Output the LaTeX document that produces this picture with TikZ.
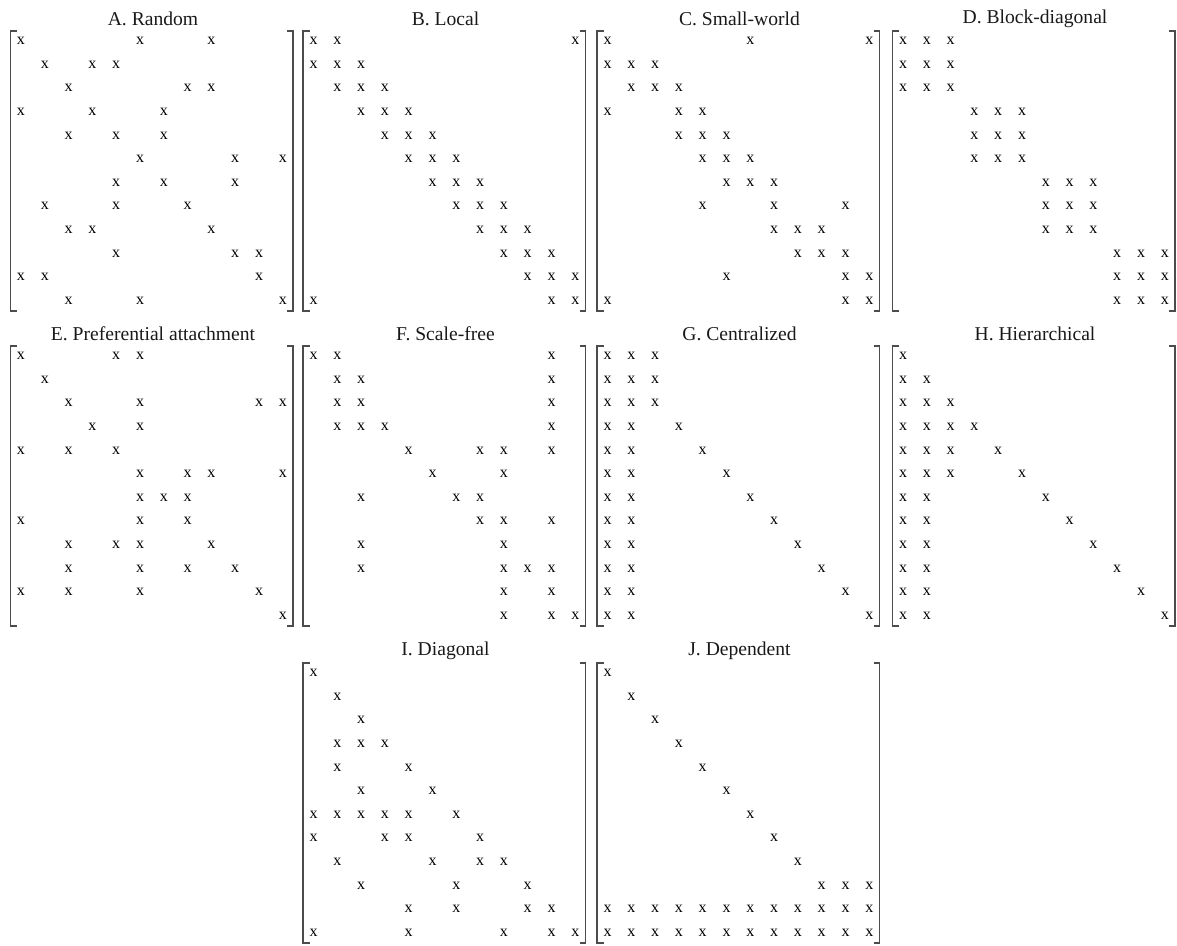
\documentclass[tikz,border=0pt]{standalone}
\usepackage{fontspec}
\setmainfont{Liberation Serif}
\usepackage{tikz}

% one 12x12 panel: name, x of first column, y of first row, title, rows
\newcommand{\sparsepanel}[5]{%
    \node[paneltitle] (#1-title) at ({#2+132}, {#3-22}) {#4};
    \foreach \cols [count=\r] in {#5} {
        \foreach \c in \cols {
            \node[entry] (#1-\r-\c) at ({#2+(\c-1)*23.8}, {#3+(\r-1)*23.6}) {x};
        }
    }
    % Brackets
    \draw[bracket] ({#2-4}, {#3-10}) -- ({#2-10.5}, {#3-10}) -- ({#2-10.5}, {#3+270}) -- ({#2-4}, {#3+270});
    \draw[bracket] ({#2+266}, {#3-10}) -- ({#2+272}, {#3-10}) -- ({#2+272}, {#3+270}) -- ({#2+266}, {#3+270});
}

\begin{document}
\begin{tikzpicture}[x=0.5pt, y=-0.5pt,
        entry/.style={inner sep=0pt, text=black, font=\fontsize{8}{9}\selectfont},
        paneltitle/.style={inner sep=0pt, text=black!90, font=\fontsize{9.8}{12}\selectfont},
        bracket/.style={line width=0.9pt, black!70}]
    \useasboundingbox (0,0) rectangle (1177,946);

    % Top row
    \sparsepanel{A}{21}{41}{A. Random}{{1,6,9},{2,4,5},{3,8,9},{1,4,7},{3,5,7},{6,10,12},{5,7,10},{2,5,8},{3,4,9},{5,10,11},{1,2,11},{3,6,12}}
    \sparsepanel{B}{313.5}{41}{B. Local}{{1,2,12},{1,2,3},{2,3,4},{3,4,5},{4,5,6},{5,6,7},{6,7,8},{7,8,9},{8,9,10},{9,10,11},{10,11,12},{1,11,12}}
    \sparsepanel{C}{607.5}{41}{C. Small-world}{{1,7,12},{1,2,3},{2,3,4},{1,4,5},{4,5,6},{5,6,7},{6,7,8},{5,8,11},{8,9,10},{9,10,11},{6,11,12},{1,11,12}}
    \sparsepanel{D}{903}{41}{D. Block-diagonal}{{1,2,3},{1,2,3},{1,2,3},{4,5,6},{4,5,6},{4,5,6},{7,8,9},{7,8,9},{7,8,9},{10,11,12},{10,11,12},{10,11,12}}

    % Middle row
    \sparsepanel{E}{21}{356}{E. Preferential attachment}{{1,5,6},{2},{3,6,11,12},{4,6},{1,3,5},{6,8,9,12},{6,7,8},{1,6,8},{3,5,6,9},{3,6,8,10},{1,3,6,11},{12}}
    \sparsepanel{F}{313.5}{356}{F. Scale-free}{{1,2,11},{2,3,11},{2,3,11},{2,3,4,11},{5,8,9,11},{6,9},{3,7,8},{8,9,11},{3,9},{3,9,10,11},{9,11},{9,11,12}}
    \sparsepanel{G}{607.5}{356}{G. Centralized}{{1,2,3},{1,2,3},{1,2,3},{1,2,4},{1,2,5},{1,2,6},{1,2,7},{1,2,8},{1,2,9},{1,2,10},{1,2,11},{1,2,12}}
    \sparsepanel{H}{903}{356}{H. Hierarchical}{{1},{1,2},{1,2,3},{1,2,3,4},{1,2,3,5},{1,2,3,6},{1,2,7},{1,2,8},{1,2,9},{1,2,10},{1,2,11},{1,2,12}}

    % Bottom row
    \sparsepanel{I}{313.5}{673}{I. Diagonal}{{1},{2},{3},{2,3,4},{2,5},{3,6},{1,2,3,4,5,7},{1,4,5,8},{2,6,8,9},{3,7,10},{5,7,10,11},{1,5,9,11,12}}
    \sparsepanel{J}{607.5}{673}{J. Dependent}{{1},{2},{3},{4},{5},{6},{7},{8},{9},{10,11,12},{1,2,3,4,5,6,7,8,9,10,11,12},{1,2,3,4,5,6,7,8,9,10,11,12}}
\end{tikzpicture}
\end{document}
